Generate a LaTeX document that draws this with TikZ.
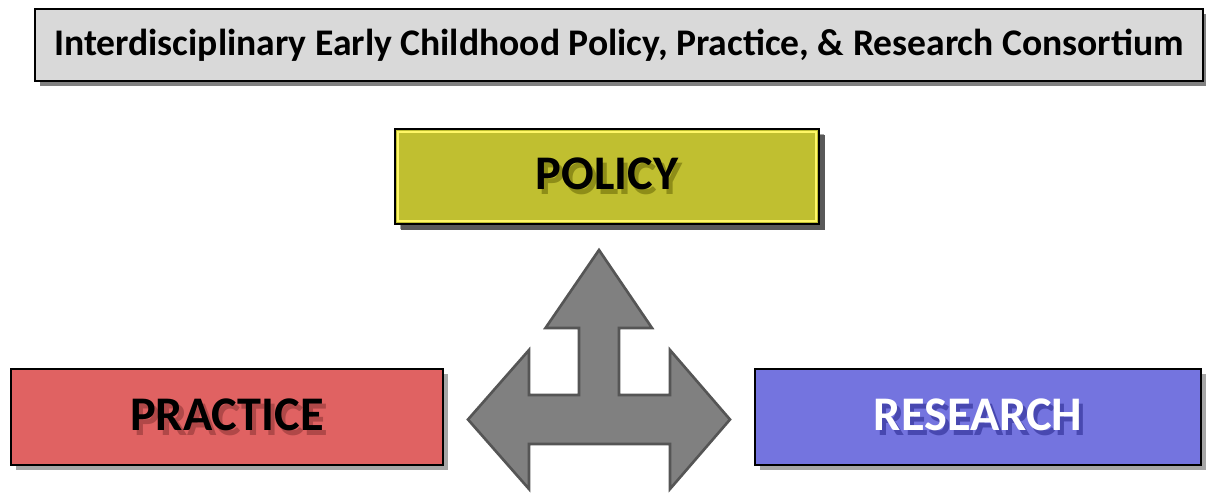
\documentclass[tikz,border=0pt]{standalone}
\usepackage{fontspec}
\setmainfont{Carlito}
\usetikzlibrary{shadows}

\definecolor{titlegray}{HTML}{D9D9D9}
\definecolor{policyfill}{HTML}{C0BF30}
\definecolor{policyshade}{HTML}{8E8D18}
\definecolor{practicefill}{HTML}{E06262}
\definecolor{practiceshade}{HTML}{B04848}
\definecolor{researchfill}{HTML}{7474DF}
\definecolor{researchshade}{HTML}{4848B0}
\definecolor{arrowgray}{HTML}{808080}
\definecolor{arrowline}{HTML}{555555}

% text with an offset shadow behind it
\newcommand{\shadowedtext}[2]{\makebox[0pt][l]{\hspace{0.08cm}\raisebox{-0.1cm}{\textcolor{#1}{#2}}}#2}

\tikzset{
  titlebox/.style={draw, line width=1pt, fill=titlegray, minimum width=23.36cm, minimum height=1.44cm,
    font=\fontsize{21.4}{25}\selectfont\bfseries,
    drop shadow={shadow xshift=0.1cm, shadow yshift=-0.1cm, fill=black!50, opacity=1}},
  areabox/.style={draw, line width=1pt, minimum height=1.92cm,
    font=\fontsize{27.5}{32}\selectfont\bfseries,
    drop shadow={shadow xshift=0.1cm, shadow yshift=-0.1cm, fill=black!35, opacity=1}}
}

\begin{document}
\begin{tikzpicture}
    \useasboundingbox (0,0) rectangle (24.12cm,9.92cm);
    \node[titlebox] (consortium) at (12.38cm, 9.02cm) {Interdisciplinary Early Childhood Policy, Practice, \& Research Consortium};
    \node[areabox, fill=policyfill, minimum width=8.48cm, minimum height=1.90cm,
      drop shadow={shadow xshift=0.12cm, shadow yshift=-0.12cm, fill=black!65, opacity=1}]
      (policy) at (12.14cm, 6.39cm) {\shadowedtext{policyshade}{POLICY}};
    \draw[yellow!60!white, line width=0.8pt] ([shift={(0.08cm,0.08cm)}]policy.south west) rectangle ([shift={(-0.08cm,-0.08cm)}]policy.north east);
    \node[areabox, fill=practicefill, minimum width=8.64cm] (practice) at (4.54cm, 1.58cm) {\shadowedtext{practiceshade}{PRACTICE}};
    \node[areabox, fill=researchfill, minimum width=8.92cm, text=white] (research) at (19.56cm, 1.58cm) {\shadowedtext{researchshade}{RESEARCH}};
    % three-way arrow between the areas
    \draw[line width=1.5pt, line join=miter, draw=arrowline, fill=arrowgray]
      (11.98cm,4.92cm) -- (13.04cm,3.36cm) -- (12.38cm,3.36cm) -- (12.38cm,2.02cm)
      -- (13.40cm,2.02cm) -- (13.40cm,2.92cm) -- (14.60cm,1.53cm) -- (13.40cm,0.14cm)
      -- (13.40cm,1.04cm) -- (10.58cm,1.04cm) -- (10.58cm,0.14cm) -- (9.36cm,1.53cm)
      -- (10.58cm,2.92cm) -- (10.58cm,2.02cm) -- (11.58cm,2.02cm) -- (11.58cm,3.36cm)
      -- (10.91cm,3.36cm) -- cycle;
\end{tikzpicture}
\end{document}
